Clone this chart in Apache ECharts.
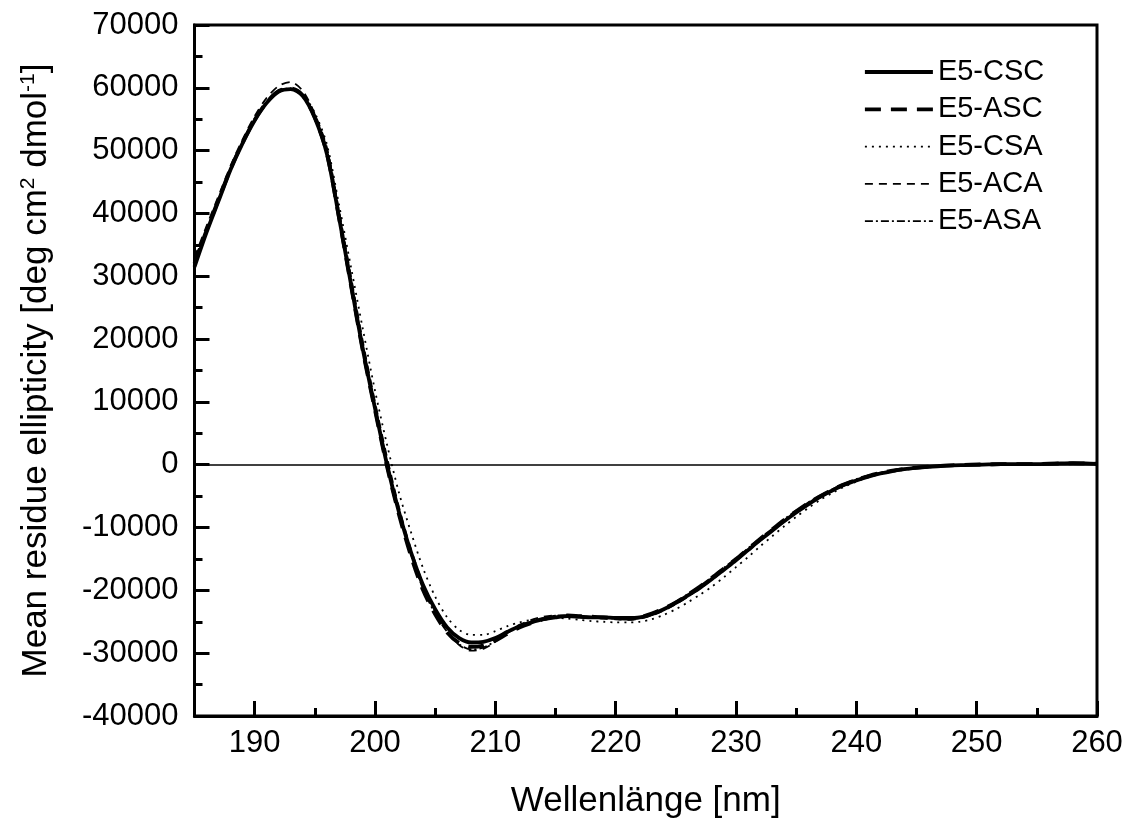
<!DOCTYPE html>
<html>
<head>
<meta charset="utf-8">
<script src="https://cdn.jsdelivr.net/npm/echarts@6/dist/echarts.min.js"></script>
<style>
  html, body { margin: 0; padding: 0; background: #fff; }
  #chart { width: 1131px; height: 828px; }
</style>
</head>
<body>
<div id="chart"></div>
<script>
// Wavelength grid (nm)
const wavelength = [
  185, 186, 187, 188, 189, 190, 191, 192, 193, 194,
  195, 196, 197, 198, 199, 200, 201, 202, 203, 204,
  205, 206, 207, 208, 209, 210, 211, 212, 213, 214,
  215, 216, 217, 218, 219, 220, 221, 222, 223, 224,
  225, 226, 227, 228, 229, 230, 231, 232, 233, 234,
  235, 236, 237, 238, 239, 240, 241, 242, 243, 244,
  245, 246, 247, 248, 249, 250, 251, 252, 253, 254,
  255, 256, 257, 258, 259, 260
];

// Mean residue ellipticity per peptide (deg cm^2 dmol^-1)
const e5CSC = [
  31500, 37000, 42000, 47000, 51200, 54800, 57600, 59400, 59800, 58700,
  55200, 49500, 39500, 28800, 18300, 9000, 0, -7600, -14000, -19200,
  -23000, -25900, -27600, -28300, -28200, -27600, -26600, -25700, -25100, -24600,
  -24300, -24100, -24200, -24300, -24300, -24400, -24400, -24300, -23800, -23000,
  -22000, -20800, -19600, -18200, -16700, -15200, -13600, -12000, -10500, -9000,
  -7600, -6300, -5100, -4100, -3200, -2500, -1900, -1400, -1000, -700,
  -500, -350, -200, -100, -50, 0, 50, 100, 100, 100,
  100, 150, 200, 250, 200, 150
];
const e5ASC = [
  32000, 37300, 42200, 47100, 51300, 54900, 57700, 59500, 59900, 58800,
  55300, 49600, 39400, 28600, 18000, 8700, -300, -8000, -14600, -20000,
  -23800, -26700, -28400, -29000, -28800, -28000, -26900, -25900, -25200, -24600,
  -24200, -24000, -24100, -24200, -24300, -24400, -24500, -24300, -23700, -22900,
  -21900, -20700, -19400, -18000, -16500, -15000, -13400, -11800, -10300, -8800,
  -7400, -6100, -5000, -4000, -3100, -2400, -1800, -1300, -950, -650,
  -450, -300, -180, -90, -30, 20, 60, 100, 100, 100,
  120, 160, 200, 230, 200, 150
];
const e5CSA = [
  31800, 37000, 41900, 46800, 51000, 54700, 57600, 59400, 59700, 58900,
  56000, 51000, 41500, 31500, 21500, 11800, 3200, -4500, -10800, -16500,
  -21000, -24300, -26300, -27100, -27100, -26500, -25700, -25100, -24700, -24500,
  -24400, -24500, -24700, -24900, -25000, -25100, -25100, -25000, -24600, -23900,
  -23000, -21900, -20700, -19400, -17900, -16300, -14700, -13000, -11400, -9800,
  -8300, -6900, -5600, -4500, -3500, -2700, -2000, -1500, -1100, -800,
  -550, -380, -230, -120, -60, 0, 50, 80, 100, 100,
  100, 130, 180, 220, 180, 130
];
const e5ACA = [
  33000, 38000, 42800, 47600, 51800, 55500, 58400, 60300, 60900, 59500,
  55800, 50500, 40500, 30000, 19500, 10000, 1200, -6800, -13500, -19000,
  -23200, -26500, -28700, -29600, -29300, -28200, -26700, -25500, -24700, -24200,
  -24000, -24000, -24100, -24300, -24500, -24600, -24700, -24500, -24000, -23200,
  -22200, -21000, -19700, -18300, -16800, -15300, -13700, -12100, -10600, -9100,
  -7700, -6400, -5200, -4200, -3300, -2500, -1900, -1400, -1000, -700,
  -480, -330, -200, -100, -40, 10, 50, 90, 100, 110,
  120, 160, 210, 250, 210, 160
];
const e5ASA = [
  32500, 37500, 42300, 47200, 51400, 55000, 57800, 59600, 59900, 58800,
  55400, 49800, 39700, 29000, 18600, 9200, 300, -7700, -14300, -19800,
  -23700, -26600, -28600, -29400, -29100, -28100, -26800, -25700, -24900, -24400,
  -24200, -24100, -24200, -24300, -24400, -24500, -24600, -24400, -23900, -23100,
  -21800, -20600, -19300, -17900, -16400, -14900, -13300, -11700, -10200, -8700,
  -7300, -6000, -4900, -3900, -3000, -2300, -1700, -1250, -900, -620,
  -430, -280, -160, -80, -30, 20, 60, 100, 100, 110,
  110, 150, 190, 230, 190, 140
];

// Axis tick values
const xMajorTicks = [190, 200, 210, 220, 230, 240, 250, 260];

const FONT = "'Liberation Sans', Arial, sans-serif";
const INK = '#000';

// Line style per peptide: [name, values, width, dash]
const styles = [
  ['E5-CSC', e5CSC, 3.8, 'solid'],
  ['E5-ASC', e5ASC, 3.8, [16, 10]],
  ['E5-CSA', e5CSA, 1.8, [2, 5]],
  ['E5-ACA', e5ACA, 1.8, [8, 6]],
  ['E5-ASA', e5ASA, 1.8, [8, 3, 2, 3]]
];

function pairs(ys) {
  return wavelength.map((x, i) => [x, ys[i]]);
}

const chart = echarts.init(document.getElementById('chart'), null, { renderer: 'canvas' });

const lineSeries = (name, ys, width, type, extra) => Object.assign({
  name: name,
  type: 'line',
  xAxisIndex: 0,
  yAxisIndex: 0,
  data: pairs(ys),
  showSymbol: false,
  symbol: 'none',
  smooth: 0.3,
  animation: false,
  color: INK,
  itemStyle: { color: INK },
  lineStyle: { color: INK, width: width, type: type }
}, extra || {});

const legendData = styles.map(s => ({
  name: s[0],
  itemStyle: { opacity: 0 },
  lineStyle: { color: INK, width: s[2], type: s[3] }
}));

// thin curves first so the bold ones stay on top
const drawOrder = [2, 3, 4, 1, 0];
const series = drawOrder.map(i => {
  const s = styles[i];
  const extra = i === 0 ? {
    markLine: {
      silent: true, symbol: 'none', animation: false,
      label: { show: false },
      lineStyle: { color: INK, width: 1.5, type: 'solid' },
      data: [{ yAxis: 0 }]
    }
  } : null;
  return lineSeries(s[0], s[1], s[2], s[3], extra);
});

chart.setOption({
  backgroundColor: '#fff',
  animation: false,
  color: [INK],
  grid: {
    left: 194.5, right: 34, top: 25, bottom: 112,
    show: true, borderColor: INK, borderWidth: 3,
    outerBoundsMode: 'none'
  },
  legend: {
    orient: 'vertical',
    left: 858, top: 52,
    itemWidth: 68, itemHeight: 20, itemGap: 7.3,
    data: legendData,
    itemStyle: { opacity: 0 },
    textStyle: { fontFamily: FONT, fontSize: 29, color: INK, lineHeight: 30 },
    selectedMode: false
  },
  xAxis: [
    {
      type: 'value', min: 185, max: 260,
      position: 'bottom',
      name: 'Wellenlänge [nm]', nameLocation: 'middle', nameGap: 68,
      nameTextStyle: { fontFamily: FONT, fontSize: 35, color: INK },
      axisLine: { show: true, onZero: false, lineStyle: { color: INK, width: 3 } },
      axisTick: { show: true, inside: true, length: 15, customValues: xMajorTicks, lineStyle: { color: INK, width: 3 } },
      axisLabel: { customValues: xMajorTicks, margin: 12, fontFamily: FONT, fontSize: 31, color: INK },
      splitLine: { show: false }
    },
    {
      type: 'value', min: 185, max: 260, interval: 5,
      position: 'bottom',
      axisLine: { show: false, onZero: false },
      axisTick: { show: true, inside: true, length: 8, lineStyle: { color: INK, width: 3 } },
      axisLabel: { show: false },
      splitLine: { show: false }
    }
  ],
  yAxis: [
    {
      type: 'value', min: -40000, max: 70000, interval: 10000,
      position: 'left',
      name: 'Mean residue ellipticity [deg cm{sup|2} dmol{sup|-1}]',
      nameLocation: 'middle', nameGap: 140, nameRotate: 90,
      nameTextStyle: {
        fontFamily: FONT, fontSize: 35, color: INK, lineHeight: 37,
        rich: { sup: { fontFamily: FONT, fontSize: 21, color: INK, verticalAlign: 'top', lineHeight: 21 } }
      },
      axisLine: { show: true, onZero: false, lineStyle: { color: INK, width: 3 } },
      axisTick: { show: true, inside: true, length: 15, lineStyle: { color: INK, width: 3 } },
      axisLabel: { margin: 16, fontFamily: FONT, fontSize: 31, color: INK, formatter: (v) => String(v) },
      splitLine: { show: false }
    },
    {
      type: 'value', min: -40000, max: 70000, interval: 5000,
      position: 'left',
      axisLine: { show: false, onZero: false },
      axisTick: { show: true, inside: true, length: 8, lineStyle: { color: INK, width: 3 } },
      axisLabel: { show: false },
      splitLine: { show: false }
    }
  ],
  series: series
});
</script>
</body>
</html>
